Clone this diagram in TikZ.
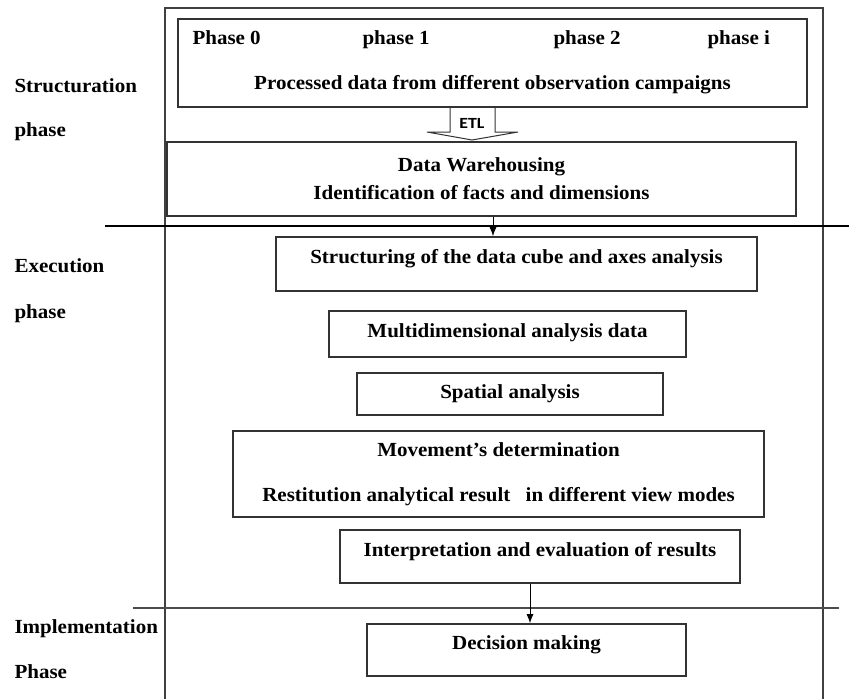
\documentclass[tikz,border=0pt]{standalone}
\usepackage{fontspec}
\setmainfont{Liberation Serif}[FakeStretch=1.05]
\newfontfamily\etlfont{Carlito}[FakeStretch=1.15]
\usetikzlibrary{arrows.meta}
\begin{document}
\begin{tikzpicture}[x = 1pt, y = -1pt, line width = 1pt,
    box/.style = {rectangle, draw = black!80, line width = 1.6pt, inner ysep = 0pt, align = center,
                  font = \fontsize{20}{24}\selectfont\bfseries},
    lbl/.style = {anchor = base west, inner sep = 0pt, font = \fontsize{20}{24}\selectfont\bfseries},
    flow/.style = {-{Latex[length = 9pt, width = 7pt]}, line width = 1pt}]
  \useasboundingbox (0, 0) rectangle (849, 699);

  % frame and phase separators
  \draw [line width = 1.3pt, black!75] (165, 699) -- (165, 8) -- (823, 8) -- (823, 699);
  \draw [line width = 1.8pt] (105, 226) -- (849, 226);
  \draw [line width = 1.2pt, black!70] (133, 608) -- (839, 608);

  % phase names
  \node [lbl] (s1) at (14, 92){Structuration};
  \node [lbl] (s2) at (14, 136){phase};
  \node [lbl] (e1) at (14, 272){Execution};
  \node [lbl] (e2) at (14, 318){phase};
  \node [lbl] (i1) at (14, 633){Implementation};
  \node [lbl] (i2) at (14, 678){Phase};

  % structuration
  \node [box, minimum width = 629pt, text height = 70pt, text depth = 18pt] (raw) at (492.5, 63){Processed data from different observation campaigns};
  \node [lbl] (ph0) at (192, 44){Phase 0};
  \node [lbl] (ph1) at (362, 44){phase 1};
  \node [lbl] (ph2) at (553, 44){phase 2};
  \node [lbl] (phi) at (707, 44){phase i};

  \coordinate (etltip) at (472, 140);
  \draw [line width = 1pt, black!80] (etltip) ++(-22, -33) -- ++(0, 25) -- ++(-23, 0) -- (etltip) -- ++(46, -8) -- ++(-23, 0) -- ++(0, -25);
  \node [font = \etlfont\fontsize{15.5}{18}\selectfont\bfseries] (etl) at (472, 123){ETL};

  \node [box, minimum width = 629pt, minimum height = 74pt, font = \fontsize{20}{28}\selectfont\bfseries] (dw) at (481.5, 179){Data Warehousing\\Identification of facts and dimensions};

  % execution
  \node [box, minimum width = 481pt, text height = 26pt, text depth = 28pt] (cube) at (516.5, 264){Structuring of the data cube and axes analysis};
  \node [box, minimum width = 357pt, text height = 26pt, text depth = 20pt] (multi) at (507.5, 334){Multidimensional analysis data};
  \node [box, minimum width = 306pt, text height = 25pt, text depth = 17pt] (spat) at (510, 394){Spatial analysis};
  \node [box, minimum width = 531pt, minimum height = 86pt, font = \fontsize{20}{45}\selectfont\bfseries] (move) at (498.5, 474){Movement’s determination\\Restitution analytical result\hspace{0.5em} in different view modes};
  \node [box, minimum width = 400pt, text height = 26pt, text depth = 27pt] (interp) at (540, 556.5){Interpretation and evaluation of results};

  % implementation
  \node [box, minimum width = 319pt, text height = 25pt, text depth = 27pt] (dec) at (526.5, 650){Decision making};

  \draw [flow] ([xshift = 11.5pt]dw.south) -- ([xshift = 11.5pt]dw.south |- cube.north);
  \draw [flow] ([xshift = -10pt]interp.south) -- ([xshift = -10pt]interp.south |- dec.north);
\end{tikzpicture}
\end{document}
